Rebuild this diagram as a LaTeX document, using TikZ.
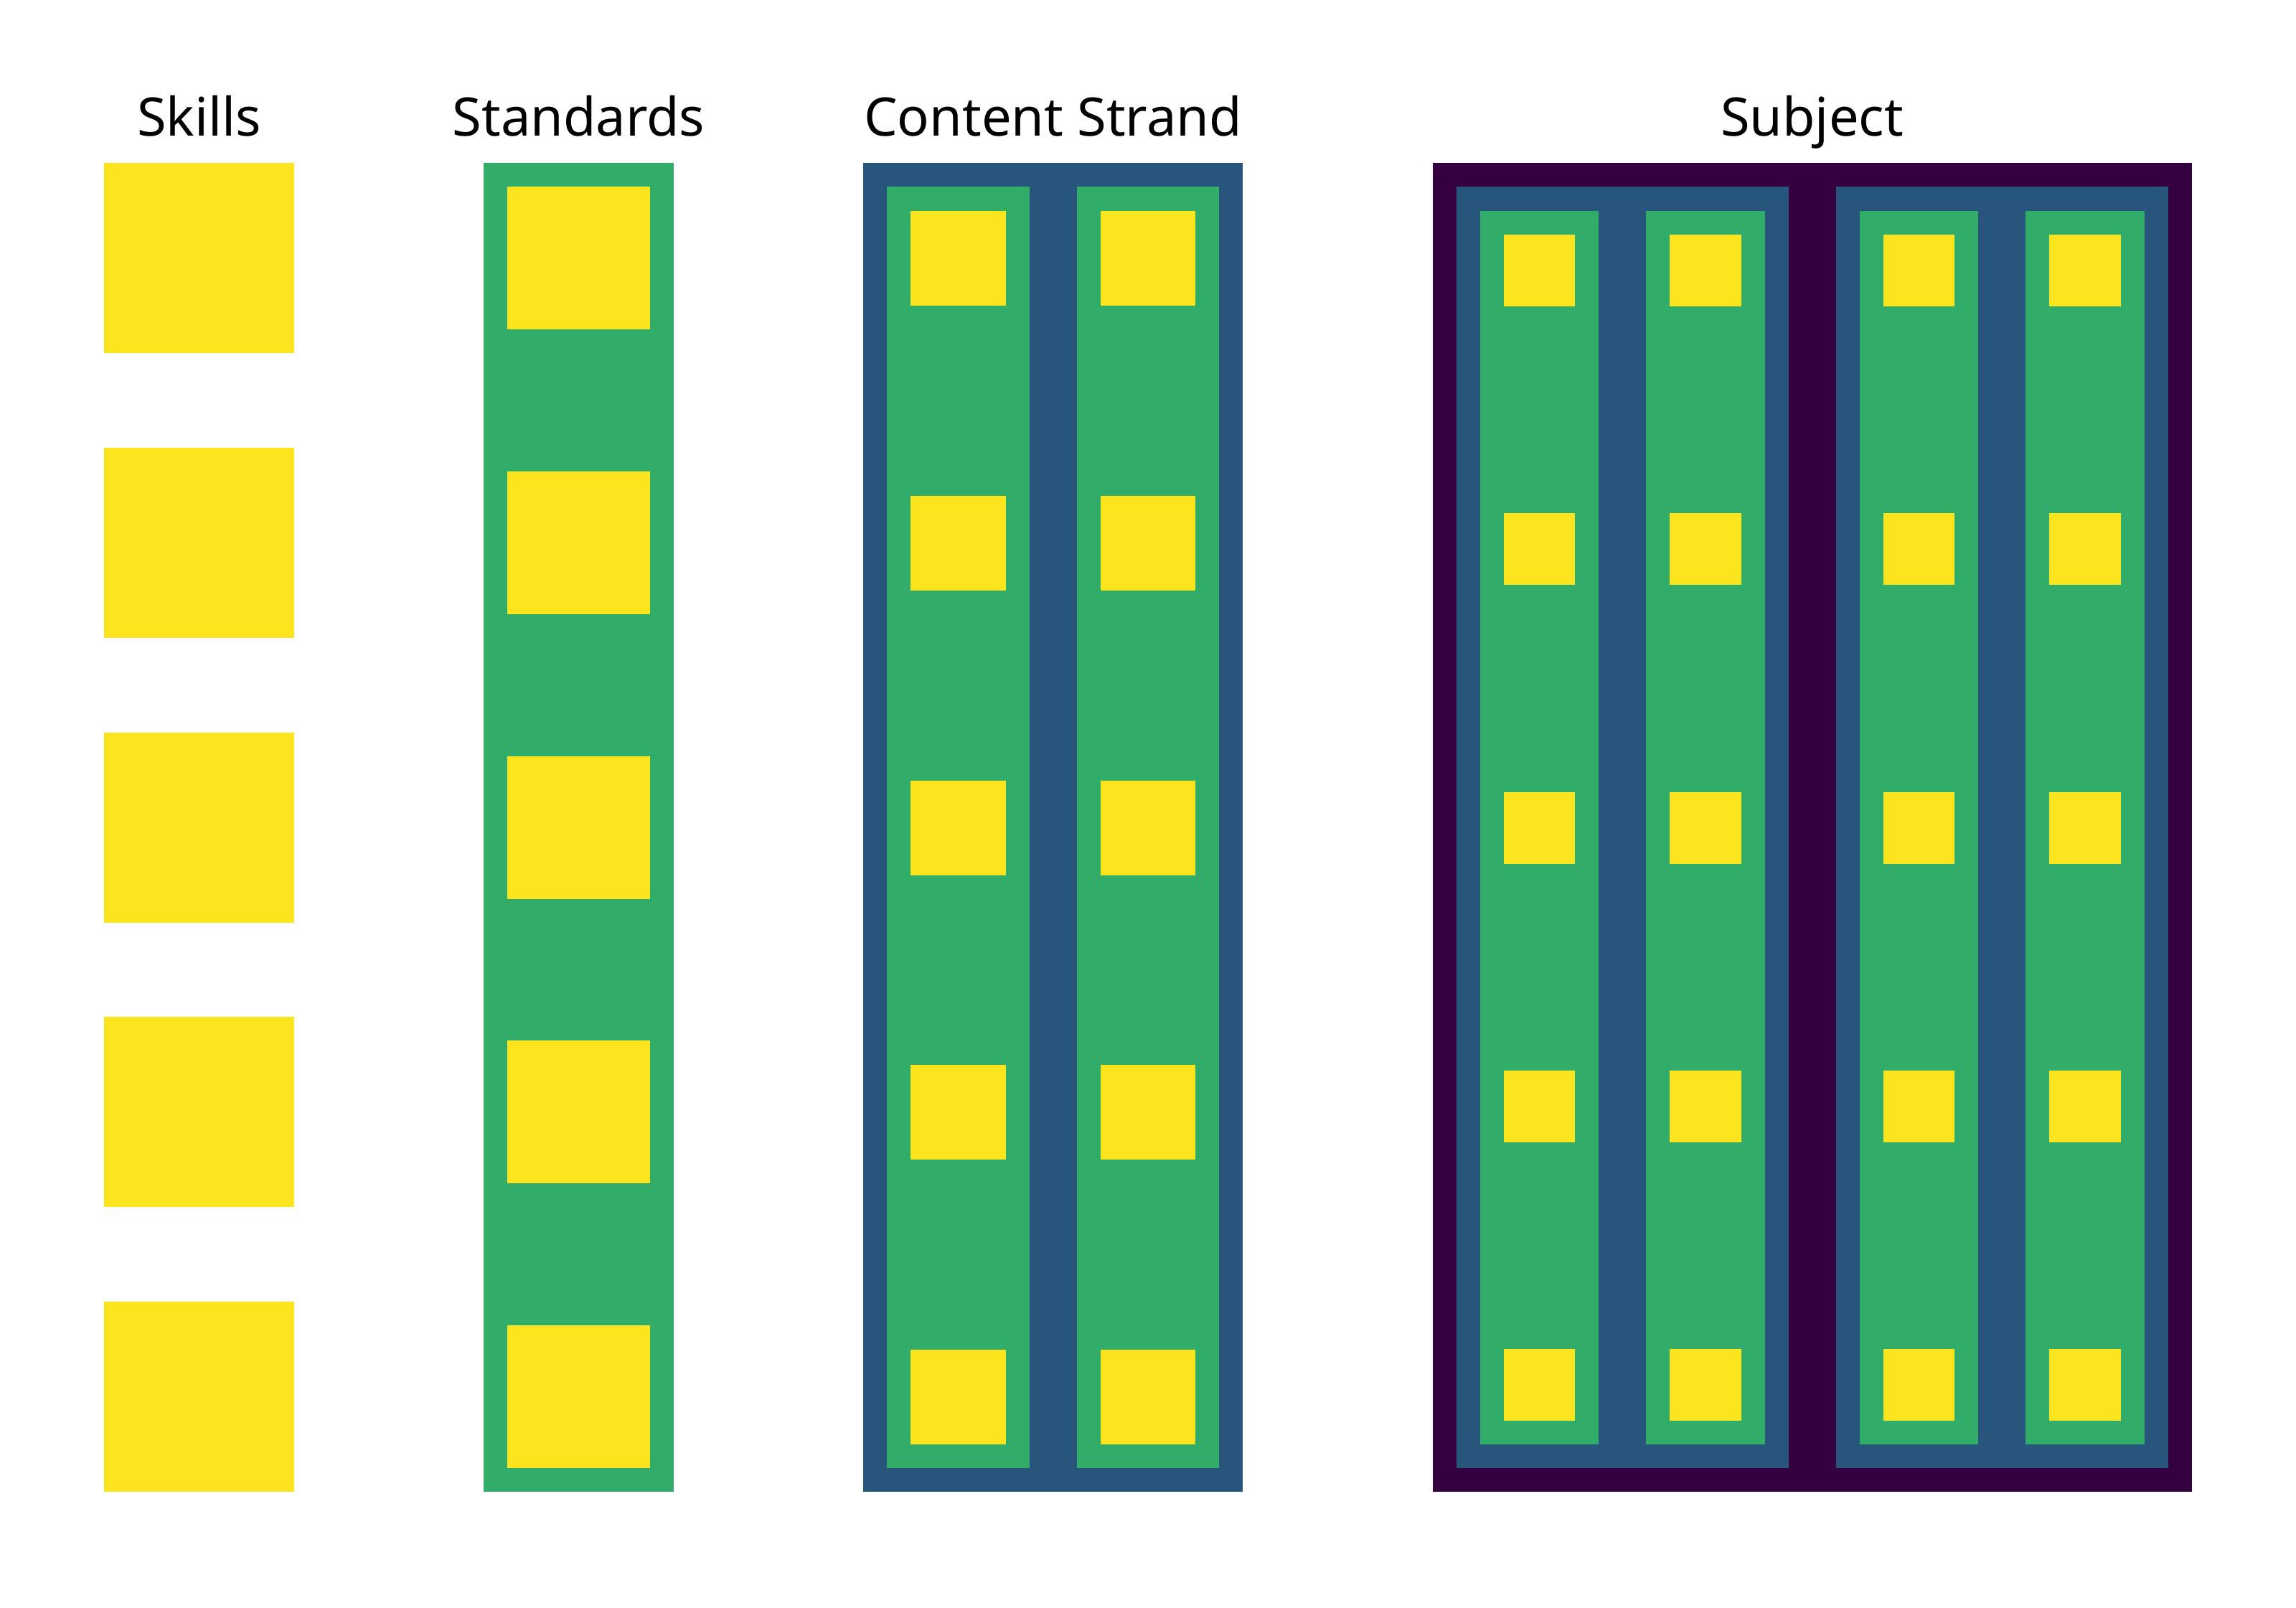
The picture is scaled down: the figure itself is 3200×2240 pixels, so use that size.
\documentclass[tikz,border=0pt]{standalone}
\usepackage{fontspec}
\setmainfont{Noto Sans}
\definecolor{cyel}{HTML}{FCE51E}
\definecolor{cgrn}{HTML}{31AD69}
\definecolor{cblu}{HTML}{27557B}
\definecolor{cpur}{HTML}{35003F}
\begin{document}
\begin{tikzpicture}[x=1pt,y=-1pt,
  lbl/.style={font=\fontsize{74}{88}\selectfont, anchor=base, inner sep=0pt, text=black}]
\useasboundingbox (0,0) rectangle (3200,2240);
\fill[white] (0,0) rectangle (3200,2240);
% labels
\node[lbl] (tskills) at (277.5,189) {Skills};
\node[lbl] (tstand) at (806.5,189) {Standards};
\node[lbl] (tcontent) at (1467.5,189) {Content Strand};
\node[lbl] (tsubject) at (2525.5,189) {Subject};
% Skills
\foreach \k in {0,...,4}
  \fill[cyel] (145,{227+396.75*\k}) rectangle (410,{492+396.75*\k});
% Standards
\fill[cgrn] (674,227) rectangle (939,2079);
\foreach \k in {0,...,4}
  \fill[cyel] (707,{260+396.75*\k}) rectangle (906,{459+396.75*\k});
% Content strand
\fill[cblu] (1203,227) rectangle (1732,2079);
\foreach \gx in {1236,1500.5}
  \fill[cgrn] (\gx,260) rectangle ({\gx+198.5},2046);
\foreach \yx in {1269,1533.5}
  \foreach \k in {0,...,4}
    \fill[cyel] (\yx,{294+396.75*\k}) rectangle ({\yx+132.5},{426+396.75*\k});
% Subject
\fill[cpur] (1996.5,227) rectangle (3054.5,2079);
\foreach \bx in {2029.5,2558.5}
  \fill[cblu] (\bx,260) rectangle ({\bx+463},2046);
\foreach \gx in {2062.5,2294,2591.5,2823}
  \fill[cgrn] (\gx,294) rectangle ({\gx+165.5},2013);
\foreach \yx in {2095.5,2327,2624.5,2856}
  \foreach \k in {0,...,4}
    \fill[cyel] (\yx,{327+388.25*\k}) rectangle ({\yx+99.5},{427+388.25*\k});
\end{tikzpicture}
\end{document}
